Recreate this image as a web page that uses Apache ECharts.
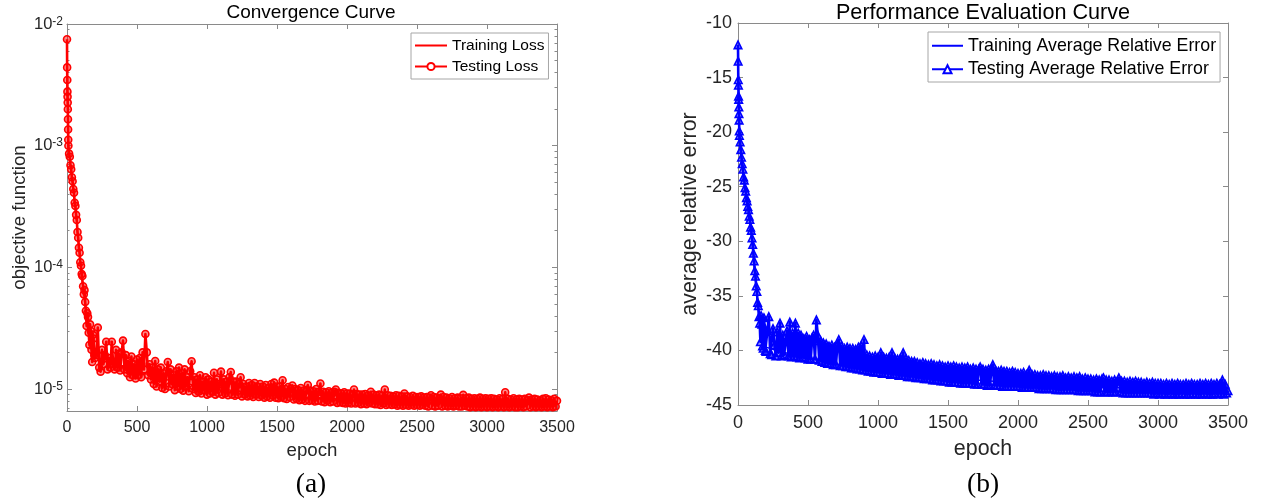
<!DOCTYPE html>
<html>
<head>
<meta charset="utf-8">
<script src="https://cdn.jsdelivr.net/npm/echarts@6/dist/echarts.min.js"></script>
<style>
  html, body { margin: 0; padding: 0; background: #fff; }
  #main { width: 1270px; height: 504px; }
</style>
</head>
<body>
<div id="main"></div>
<script>
const testEpochs = [
  0, 1, 2, 3, 4, 5, 6, 7, 8, 9,
  10, 15, 20, 25, 30, 35, 40, 45, 50, 55,
  60, 65, 70, 75, 80, 85, 90, 95, 100, 105,
  110, 115, 120, 125, 130, 135, 140, 145, 150, 155,
  160, 165, 170, 175, 180, 185, 190, 195, 200,
  210, 220, 230, 240, 250, 260, 270, 280, 290, 300,
  310, 320, 330, 340, 350, 360, 370, 380, 390, 400,
  410, 420, 430, 440, 450, 460, 470, 480, 490, 500,
  510, 520, 530, 540, 550, 560, 570, 580, 590, 600,
  610, 620, 630, 640, 650, 660, 670, 680, 690, 700,
  710, 720, 730, 740, 750, 760, 770, 780, 790, 800,
  810, 820, 830, 840, 850, 860, 870, 880, 890, 900,
  910, 920, 930, 940, 950, 960, 970, 980, 990, 1000,
  1010, 1020, 1030, 1040, 1050, 1060, 1070, 1080, 1090, 1100,
  1110, 1120, 1130, 1140, 1150, 1160, 1170, 1180, 1190, 1200,
  1210, 1220, 1230, 1240, 1250, 1260, 1270, 1280, 1290, 1300,
  1310, 1320, 1330, 1340, 1350, 1360, 1370, 1380, 1390, 1400,
  1410, 1420, 1430, 1440, 1450, 1460, 1470, 1480, 1490, 1500,
  1510, 1520, 1530, 1540, 1550, 1560, 1570, 1580, 1590, 1600,
  1610, 1620, 1630, 1640, 1650, 1660, 1670, 1680, 1690, 1700,
  1710, 1720, 1730, 1740, 1750, 1760, 1770, 1780, 1790, 1800,
  1810, 1820, 1830, 1840, 1850, 1860, 1870, 1880, 1890, 1900,
  1910, 1920, 1930, 1940, 1950, 1960, 1970, 1980, 1990, 2000,
  2010, 2020, 2030, 2040, 2050, 2060, 2070, 2080, 2090, 2100,
  2110, 2120, 2130, 2140, 2150, 2160, 2170, 2180, 2190, 2200,
  2210, 2220, 2230, 2240, 2250, 2260, 2270, 2280, 2290, 2300,
  2310, 2320, 2330, 2340, 2350, 2360, 2370, 2380, 2390, 2400,
  2410, 2420, 2430, 2440, 2450, 2460, 2470, 2480, 2490, 2500,
  2510, 2520, 2530, 2540, 2550, 2560, 2570, 2580, 2590, 2600,
  2610, 2620, 2630, 2640, 2650, 2660, 2670, 2680, 2690, 2700,
  2710, 2720, 2730, 2740, 2750, 2760, 2770, 2780, 2790, 2800,
  2810, 2820, 2830, 2840, 2850, 2860, 2870, 2880, 2890, 2900,
  2910, 2920, 2930, 2940, 2950, 2960, 2970, 2980, 2990, 3000,
  3010, 3020, 3030, 3040, 3050, 3060, 3070, 3080, 3090, 3100,
  3110, 3120, 3130, 3140, 3150, 3160, 3170, 3180, 3190, 3200,
  3210, 3220, 3230, 3240, 3250, 3260, 3270, 3280, 3290, 3300,
  3310, 3320, 3330, 3340, 3350, 3360, 3370, 3380, 3390, 3400,
  3410, 3420, 3430, 3440, 3450, 3460, 3470, 3480, 3490, 3500
];

// testing loss, in units of 1e-5
const testLossE5 = [
  750, 440, 347, 278, 253, 226, 199, 165, 136, 112,
  100, 86, 81, 69, 64, 55, 51, 44, 41, 34,
  32, 27, 24.5, 19.5, 17.5, 14.5, 13.2, 11, 10.3, 8.8,
  8.5, 7.0, 6.0, 6.5, 5.2, 4.4, 3.3, 4.2, 3.9, 2.9,
  2.3, 3.4, 3.0, 2.1, 1.67, 2.8, 2.6, 1.9, 1.8,
  2.0, 3.2, 1.5, 1.39, 2.1, 1.6, 1.9, 2.45, 1.45, 1.8,
  1.5, 2.45, 1.6, 1.45, 2.1, 1.5, 1.95, 1.42, 2.0, 2.5,
  1.45, 1.9, 1.35, 1.7, 1.25, 1.85, 1.3, 1.6, 1.22, 1.75,
  1.3, 1.8, 1.25, 2.0, 1.45, 2.83, 2.0, 1.3, 1.6, 1.2,
  1.5, 1.1, 1.70, 1.05, 1.45, 1.15, 1.5, 1.02, 1.35, 1.0,
  1.4, 1.67, 1.05, 1.45, 1.1, 1.3, 0.98, 1.4, 1.05, 1.5,
  1.0, 1.35, 0.97, 1.45, 1.05, 1.25, 0.96, 1.4, 1.69, 1.0,
  1.25, 0.93, 1.2, 0.95, 1.3, 0.92, 1.15, 0.98, 1.25, 0.9,
  1.2, 0.92, 1.15, 0.95, 1.36, 0.9, 1.2, 0.93, 1.1, 1.39,
  0.9, 1.2, 0.92, 1.15, 0.89, 1.25, 1.38, 0.9, 1.15, 0.88,
  1.15, 0.9, 1.1, 1.25, 0.87, 1.1, 0.9, 1.05, 0.87, 1.12,
  0.88, 1.08, 0.86, 1.12, 0.9, 1.05, 0.86, 1.1, 0.88, 1.05,
  0.85, 1.08, 0.87, 1.02, 0.85, 1.1, 0.88, 1.13, 0.85, 1.05,
  0.84, 1.05, 0.86, 1.18, 0.84, 1.0, 0.83, 1.04, 0.86, 1.0,
  1.07, 0.82, 1.0, 0.83, 0.98, 0.81, 1.02, 0.82, 0.97, 0.8,
  0.98, 1.08, 0.8, 0.97, 0.81, 0.96, 0.79, 1.0, 0.8, 0.95,
  1.11, 0.79, 0.95, 0.78, 0.94, 0.8, 0.96, 0.78, 0.93, 0.79,
  0.95, 0.99, 0.77, 0.93, 0.78, 0.92, 0.77, 0.94, 0.76, 0.92,
  0.77, 0.92, 0.76, 0.9, 0.99, 0.76, 0.91, 0.77, 0.9, 0.75,
  0.9, 0.76, 0.91, 0.75, 0.89, 0.77, 0.95, 0.76, 0.9, 0.75,
  0.89, 0.75, 0.9, 0.74, 0.88, 0.76, 0.99, 0.74, 0.89, 0.75,
  0.88, 0.74, 0.87, 0.75, 0.89, 0.73, 0.88, 0.74, 0.87, 0.73,
  0.92, 0.74, 0.87, 0.73, 0.86, 0.74, 0.88, 0.73, 0.86, 0.74,
  0.86, 0.73, 0.87, 0.74, 0.85, 0.73, 0.86, 0.72, 0.85, 0.89,
  0.73, 0.86, 0.72, 0.85, 0.73, 0.84, 0.90, 0.72, 0.86, 0.73,
  0.85, 0.72, 0.84, 0.73, 0.86, 0.72, 0.84, 0.73, 0.85, 0.72,
  0.84, 0.72, 0.895, 0.73, 0.84, 0.72, 0.85, 0.71, 0.83, 0.72,
  0.84, 0.71, 0.83, 0.72, 0.85, 0.71, 0.83, 0.72, 0.84, 0.71,
  0.83, 0.72, 0.84, 0.71, 0.83, 0.72, 0.82, 0.71, 0.84, 0.72,
  0.83, 0.71, 0.94, 0.72, 0.83, 0.71, 0.82, 0.72, 0.84, 0.71,
  0.82, 0.71, 0.83, 0.72, 0.82, 0.71, 0.83, 0.72, 0.81, 0.85,
  0.71, 0.82, 0.72, 0.83, 0.71, 0.82, 0.72, 0.81, 0.71, 0.83,
  0.72, 0.84, 0.71, 0.82, 0.72, 0.81, 0.71, 0.83, 0.72, 0.8
];

// testing average relative error
const testErr = [
  -12.0, -13.5, -15.2, -15.7, -16.7, -17.0, -17.7, -18.3, -18.9, -19.9,
  -20.3, -20.9, -21.6, -22.3, -22.9, -23.4, -24.1, -24.4, -25.1, -25.4,
  -26.0, -26.3, -26.8, -27.1, -27.7, -28.0, -28.7, -29.0, -29.7, -30.3,
  -31.1, -31.8, -32.7, -33.2, -34.1, -34.6, -35.6, -35.9, -36.9, -37.5,
  -39.2, -36.8, -37.6, -39.6, -39.8, -37.0, -37.9, -40.0, -40.1,
  -38.2, -36.9, -40.3, -40.4, -38.0, -39.5, -40.5, -38.3, -40.2, -37.5,
  -40.5, -38.6, -40.4, -39.2, -38.2, -40.5, -37.4, -40.6, -38.4, -40.5,
  -37.5, -40.6, -38.4, -40.7, -38.6, -40.6, -38.9, -40.7, -38.7, -40.8,
  -39.0, -40.8, -38.8, -38.6, -40.8, -37.2, -38.6, -40.9, -39.1, -41.0,
  -39.3, -41.1, -39.4, -41.2, -39.6, -41.2, -39.5, -41.3, -39.7, -41.3,
  -39.5, -39.0, -41.4, -39.6, -41.4, -39.8, -41.5, -39.7, -41.5, -39.8,
  -41.6, -39.8, -41.6, -39.9, -41.7, -39.7, -41.7, -39.6, -41.8, -39.0,
  -41.8, -40.4, -41.9, -40.5, -41.9, -40.6, -42.0, -40.5, -42.0, -40.6,
  -42.0, -40.2, -42.1, -40.6, -42.1, -40.7, -42.1, -40.6, -42.2, -40.2,
  -42.2, -40.7, -42.2, -40.8, -42.3, -40.7, -42.3, -40.2, -42.3, -40.8,
  -42.4, -40.9, -42.4, -41.0, -42.4, -41.0, -42.5, -41.1, -42.5, -41.2,
  -42.5, -41.1, -42.6, -41.2, -42.6, -41.3, -42.6, -41.2, -42.7, -41.3,
  -42.7, -41.4, -42.7, -41.3, -42.8, -41.4, -42.8, -41.5, -42.8, -41.4,
  -42.9, -41.5, -42.9, -41.4, -42.9, -41.5, -42.9, -41.6, -43.0, -41.5,
  -43.0, -41.6, -43.0, -41.5, -43.0, -41.7, -43.0, -41.6, -43.1, -41.7,
  -43.1, -41.7, -41.5, -43.1, -41.7, -43.1, -41.8, -43.2, -41.7, -43.2,
  -41.8, -41.3, -43.2, -41.8, -43.2, -41.9, -43.2, -41.8, -43.3, -41.9,
  -43.3, -41.9, -43.3, -42.0, -43.3, -41.9, -43.3, -42.0, -43.3, -42.1,
  -43.3, -42.1, -43.4, -42.0, -43.4, -42.2, -43.4, -41.8, -43.4, -42.2,
  -43.4, -42.2, -43.4, -42.3, -43.5, -42.3, -43.5, -42.2, -43.5, -42.3,
  -43.5, -42.3, -43.5, -42.4, -43.5, -42.3, -43.6, -42.4, -43.6, -42.4,
  -43.6, -42.3, -43.6, -42.5, -43.6, -42.4, -43.6, -42.5, -43.6, -42.4,
  -43.6, -42.5, -43.7, -42.4, -43.7, -42.6, -43.7, -42.5, -43.7, -42.6,
  -43.7, -42.6, -43.7, -42.7, -43.8, -42.6, -43.8, -42.7, -43.8, -42.6,
  -42.5, -43.8, -42.7, -43.8, -42.7, -43.8, -42.8, -43.8, -42.7, -43.8,
  -42.8, -42.5, -43.8, -42.8, -43.9, -42.8, -43.9, -42.9, -43.9, -42.8,
  -43.9, -42.9, -43.9, -42.8, -43.9, -42.9, -43.9, -42.9, -43.9, -43.0,
  -43.9, -42.9, -43.9, -43.0, -43.9, -42.9, -44.0, -43.0, -43.9, -43.0,
  -44.0, -43.0, -43.9, -43.1, -44.0, -43.0, -44.0, -43.1, -43.9, -43.0,
  -44.0, -43.1, -44.0, -43.0, -44.0, -43.1, -43.9, -43.1, -44.0, -43.0,
  -44.0, -43.1, -44.0, -43.0, -43.9, -43.1, -44.0, -43.1, -44.0, -43.0,
  -44.0, -43.1, -43.9, -43.0, -44.0, -43.1, -44.0, -43.0, -44.0, -43.1,
  -43.9, -43.0, -44.0, -43.1, -43.9, -42.7, -44.0, -43.1, -43.9, -43.7
];

// training curves (mostly hidden under the testing markers)
const trainEpochs = [
  0, 5,
  10, 20, 30, 40, 50, 60, 70, 80, 90, 100,
  110, 120, 130, 140, 150, 160, 170, 180, 190, 200,
  300, 400, 500, 600, 700, 800, 900, 1000, 1100, 1200,
  1300, 1400, 1500, 1600, 1700, 1800, 1900, 2000, 2100, 2200,
  2300, 2400, 2500, 2600, 2700, 2800, 2900, 3000, 3100, 3200,
  3300, 3400, 3500
];
const trainLossE5 = [
  700, 210,
  95, 76, 60, 48, 38, 30, 23, 17, 12.5, 9.5,
  7.5, 6.0, 4.8, 3.6, 3.0, 2.5, 2.2, 2.0, 1.9, 1.8,
  1.65, 1.55, 1.4, 1.3, 1.2, 1.15, 1.08, 1.03, 1.0, 0.97,
  0.95, 0.92, 0.9, 0.88, 0.86, 0.85, 0.83, 0.82, 0.81, 0.8,
  0.79, 0.78, 0.78, 0.77, 0.77, 0.76, 0.76, 0.76, 0.75, 0.75,
  0.75, 0.75, 0.74
];
const trainErr = [
  -12.5, -17.5,
  -20.5, -22.0, -23.2, -24.2, -25.2, -26.1, -26.9, -27.8, -28.8, -29.8,
  -31.3, -32.9, -34.3, -35.7, -37.0, -38.0, -38.6, -39.1, -39.4, -39.7,
  -40.1, -40.4, -40.7, -41.0, -41.3, -41.5, -41.7, -41.9, -42.0, -42.2,
  -42.3, -42.4, -42.5, -42.6, -42.7, -42.8, -42.9, -43.0, -43.1, -43.1,
  -43.2, -43.3, -43.3, -43.4, -43.4, -43.5, -43.5, -43.6, -43.6, -43.6,
  -43.7, -43.7, -43.7
];

const lossTicks = [1e-5, 1e-4, 1e-3, 1e-2];
const lossMin = 6.6e-6;
const lossMax = 1e-2;

const sans = 'Liberation Sans, Arial, Helvetica, sans-serif';
const serif = 'Liberation Serif, Times New Roman, serif';
const spine = '#8a8a8a';
const ink = '#262626';

// minor ticks 2..9 x 10^k on the log axis
const lossMinor = [];
for (let d = -6; d <= -3; d++) {
  for (let k = 2; k <= 9; k++) lossMinor.push(k * Math.pow(10, d));
}

const lossTestPts = testEpochs.map((e, i) => [e, testLossE5[i] * 1e-5]);
const lossTrainPts = trainEpochs.map((e, i) => [e, trainLossE5[i] * 1e-5]);
const errTestPts = testEpochs.map((e, i) => [e, testErr[i]]);
const errTrainPts = trainEpochs.map((e, i) => [e, trainErr[i]]);

function epochAxis(grid, pos, fs, nameFs, gap) {
  return {
    gridIndex: grid, type: 'value', position: pos,
    min: 0, max: 3500, interval: 500,
    axisLine: { show: true, onZero: false, lineStyle: { color: spine, width: 1 } },
    axisTick: { show: true, inside: true, length: 5, lineStyle: { color: spine } },
    axisLabel: {
      show: pos === 'bottom', fontSize: fs, color: ink, fontFamily: sans, margin: 9,
      formatter: v => String(v)
    },
    splitLine: { show: false },
    name: pos === 'bottom' ? 'epoch' : '',
    nameLocation: 'middle', nameGap: gap,
    nameTextStyle: { fontSize: nameFs, color: ink, fontFamily: sans }
  };
}

function logAxis(grid, pos, ticks, len, withLabels) {
  return {
    gridIndex: grid, type: 'log', logBase: 10, position: pos,
    min: lossMin, max: lossMax,
    axisLine: { show: withLabels !== undefined, onZero: false, lineStyle: { color: spine, width: 1 } },
    axisTick: { show: true, inside: true, length: len, customValues: ticks, lineStyle: { color: spine } },
    axisLabel: withLabels ? {
      show: true, customValues: lossTicks, margin: 4,
      formatter: v => '{b|10}{s|' + Math.round(Math.log10(v)) + '}',
      rich: {
        b: { fontSize: 16.5, lineHeight: 17, verticalAlign: 'bottom', color: ink, fontFamily: sans },
        s: { fontSize: 12, lineHeight: 12, verticalAlign: 'top', padding: [0, 0, 7, 0], color: ink, fontFamily: sans }
      }
    } : { show: false },
    splitLine: { show: false },
    name: withLabels ? 'objective function' : '',
    nameLocation: 'middle', nameGap: 38,
    nameTextStyle: { fontSize: 18.7, color: ink, fontFamily: sans }
  };
}

function errAxis(pos) {
  return {
    gridIndex: 1, type: 'value', position: pos,
    min: -45, max: -10, interval: 5,
    axisLine: { show: true, onZero: false, lineStyle: { color: spine, width: 1 } },
    axisTick: { show: true, inside: true, length: 5, lineStyle: { color: spine } },
    axisLabel: { show: pos === 'left', fontSize: 18, color: ink, fontFamily: sans, margin: 6 },
    splitLine: { show: false },
    name: pos === 'left' ? 'average relative error' : '',
    nameLocation: 'middle', nameGap: 37,
    nameTextStyle: { fontSize: 21.4, color: ink, fontFamily: sans }
  };
}

const red = '#ff0000';
const blue = '#0000ff';

function legendBox(left, top, padding, itemW, itemH, fs, lh, names) {
  return {
    orient: 'vertical', left: left, top: top, padding: padding,
    itemGap: 4, itemWidth: itemW, itemHeight: itemH,
    backgroundColor: '#fff', borderColor: '#a6a6a6', borderWidth: 1, borderRadius: 0,
    selectedMode: false,
    lineStyle: { width: 2 },
    textStyle: { fontSize: fs, lineHeight: lh, color: '#000', fontFamily: sans },
    data: [
      { name: names[0], itemStyle: { opacity: 0 } },
      { name: names[1], itemStyle: { color: '#fff' } }
    ]
  };
}

const option = {
  animation: false,
  backgroundColor: '#fff',
  grid: [
    { left: 67, top: 24, width: 490, height: 387, outerBoundsMode: 'none' },
    { left: 738, top: 23, width: 490, height: 382, outerBoundsMode: 'none' },
    { left: 67, top: 24, width: 490, height: 387, outerBoundsMode: 'none' }
  ],
  xAxis: [
    epochAxis(0, 'bottom', 16, 18.7, 30),
    epochAxis(0, 'top', 16, 18.7, 30),
    epochAxis(1, 'bottom', 18, 21.4, 34),
    epochAxis(1, 'top', 18, 21.4, 34),
    { gridIndex: 2, type: 'value', show: false, min: 0, max: 3500 }
  ],
  yAxis: [
    logAxis(0, 'left', lossTicks, 5, true),
    logAxis(0, 'right', lossTicks, 5, false),
    errAxis('left'),
    errAxis('right'),
    logAxis(2, 'left', lossMinor, 2.5),
    logAxis(2, 'right', lossMinor, 2.5)
  ],
  legend: [
    legendBox(411, 33, [4, 4, 4, 3], 32, 9, 15.5, 17, ['Training Loss', 'Testing Loss']),
    legendBox(928, 32, [4, 4, 3, 3], 31, 10, 17.8, 19.5,
      ['Training Average Relative Error', 'Testing Average Relative Error'])
  ],
  graphic: [
    { type: 'text', x: 311, y: 13, style: { text: 'Convergence Curve', font: '19px ' + sans, fill: '#000', align: 'center', verticalAlign: 'middle', textAlign: 'center', textVerticalAlign: 'middle' } },
    { type: 'text', x: 983, y: 13, style: { text: 'Performance Evaluation Curve', font: '21.6px ' + sans, fill: '#000', align: 'center', verticalAlign: 'middle', textAlign: 'center', textVerticalAlign: 'middle' } },
    { type: 'text', x: 311, y: 485, style: { text: '(a)', font: '27.5px ' + serif, fill: '#000', align: 'center', verticalAlign: 'middle', textAlign: 'center', textVerticalAlign: 'middle' } },
    { type: 'text', x: 983, y: 485, style: { text: '(b)', font: '27.5px ' + serif, fill: '#000', align: 'center', verticalAlign: 'middle', textAlign: 'center', textVerticalAlign: 'middle' } }
  ],
  series: [
    {
      name: 'Training Loss', type: 'line', xAxisIndex: 0, yAxisIndex: 0,
      data: lossTrainPts, symbol: 'none', color: red,
      lineStyle: { color: red, width: 1.5 }, z: 2
    },
    {
      name: 'Testing Loss', type: 'line', xAxisIndex: 0, yAxisIndex: 0,
      data: lossTestPts, symbol: 'circle', symbolSize: 7, color: red,
      lineStyle: { color: red, width: 2.6, join: 'round' },
      itemStyle: { color: 'rgba(255,0,0,0.45)', borderColor: red, borderWidth: 1.6 },
      z: 3
    },
    {
      name: 'Training Average Relative Error', type: 'line', xAxisIndex: 2, yAxisIndex: 2,
      data: errTrainPts, symbol: 'none', color: blue,
      lineStyle: { color: blue, width: 1.5 }, z: 2
    },
    {
      name: 'Testing Average Relative Error', type: 'line', xAxisIndex: 2, yAxisIndex: 2,
      data: errTestPts, symbol: 'triangle', symbolSize: 7.5, color: blue,
      lineStyle: { color: blue, width: 2.6, join: 'round' },
      itemStyle: { color: 'rgba(0,0,255,0.45)', borderColor: blue, borderWidth: 1.6 },
      z: 3
    }
  ]
};

const chart = echarts.init(document.getElementById('main'), null, { renderer: 'canvas' });
chart.setOption(option);
</script>
</body>
</html>
